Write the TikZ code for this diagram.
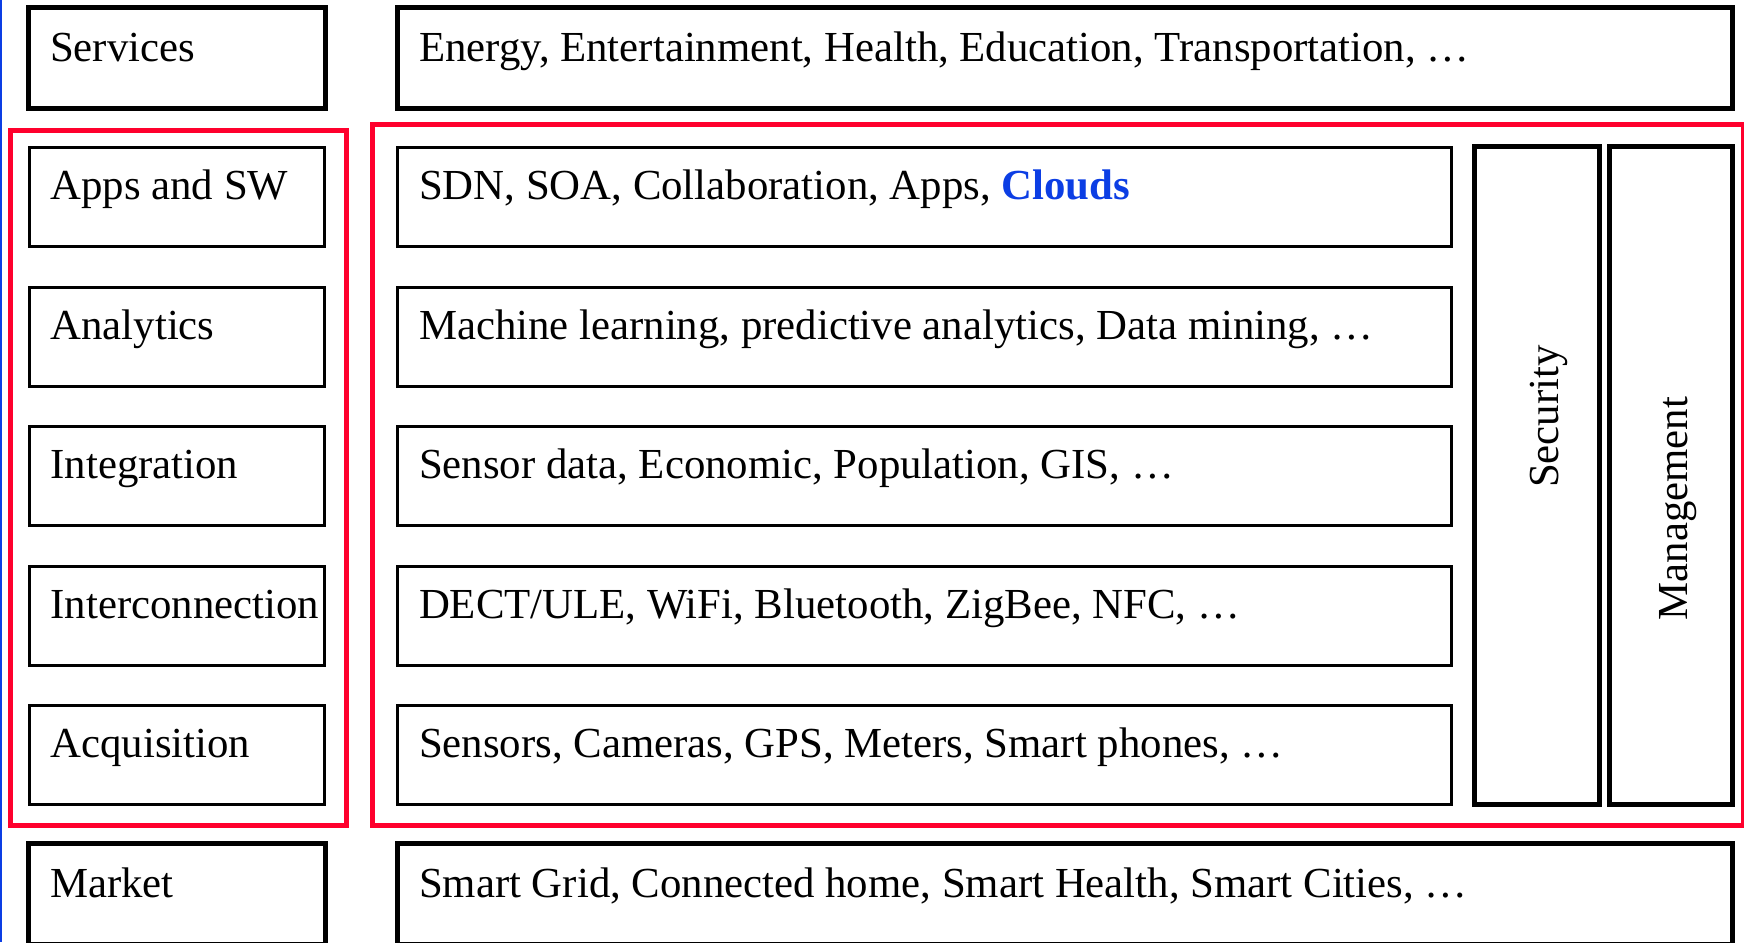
\documentclass[tikz,border=0pt]{standalone}
\usepackage{fontspec}
\setmainfont{Liberation Serif}
\usepackage{tikz}
\usetikzlibrary{positioning}
\definecolor{framered}{RGB}{255,0,45}
\definecolor{cloudblue}{RGB}{12,62,228}
\tikzstyle{frame} = [draw=framered, line width=2.5pt]
\tikzstyle{layer_thick} = [rectangle, draw, line width=2.5pt, text width=127pt, inner xsep=10.75pt, inner ysep=0pt, text height=27pt, text depth=23.5pt, align=flush left, font=\fontsize{21.4}{25}\selectfont]
\tikzstyle{layer} = [rectangle, draw, line width=1.5pt, text width=126.25pt, inner xsep=10.75pt, inner ysep=0pt, text height=26pt, text depth=23.5pt, align=flush left, font=\fontsize{21.4}{25}\selectfont]
\tikzstyle{tech_thick} = [layer_thick, text width=646pt]
\tikzstyle{tech} = [layer, text width=505.5pt]
\tikzstyle{side_box} = [rectangle, draw, line width=2.5pt, inner sep=0pt, minimum height=328.85pt]
\tikzstyle{side_text} = [rotate=90, anchor=base, inner sep=0pt, font=\fontsize{21.4}{25}\selectfont]

\begin{document}
\begin{tikzpicture}[x=0.5pt, y=-0.5pt]
		\path[use as bounding box, clip] (0,0) rectangle (1744,942);
		\draw[cloudblue, line width=1pt] (1,0) -- (1,942);
		
		\node[layer_thick] (L_services) at (177,58) {Services};
		\node[tech_thick, right of=L_services, node distance=444pt] (R_services) {Energy, Entertainment, Health, Education, Transportation, …};
		
		\node[layer] (L_apps) at (176.75,197.1) {Apps and SW};
		\node[layer, below of=L_apps, node distance=69.75pt] (L_ana) {Analytics};
		\node[layer, below of=L_ana, node distance=69.75pt] (L_integ) {Integration};
		\node[layer, below of=L_integ, node distance=69.75pt] (L_inter) {Interconnection};
		\node[layer, below of=L_inter, node distance=69.75pt] (L_acq) {Acquisition};
		
		\node[tech, right of=L_apps, node distance=373.875pt] (R_apps) {SDN, SOA, Collaboration, Apps, {\bfseries\color{cloudblue}Clouds}};
		\node[tech, right of=L_ana, node distance=373.875pt] (R_ana) {Machine learning, predictive analytics, Data mining, …};
		\node[tech, right of=L_integ, node distance=373.875pt] (R_integ) {Sensor data, Economic, Population, GIS, …};
		\node[tech, right of=L_inter, node distance=373.875pt] (R_inter) {DECT/ULE, WiFi, Bluetooth, ZigBee, NFC, …};
		\node[tech, right of=L_acq, node distance=373.875pt] (R_acq) {Sensors, Cameras, GPS, Meters, Smart phones, …};
		
		\node[side_box, minimum width=62.5pt] (sec_box) at (1536.5,475.3) {};
		\node[side_box, minimum width=61.75pt, right of=sec_box, node distance=67.125pt] (man_box) {};
		\node[side_text] (sec_text) at ([xshift=10.75pt, yshift=29.4pt]sec_box.center) {Security};
		\node[side_text] (man_text) at ([xshift=8.6pt, yshift=-16.6pt]man_box.center) {Management};
		
		\draw[frame] (10,130) rectangle (346.5,825);
		\draw[frame] (372.5,124.5) rectangle (1743,825);
		
		\node[layer_thick] (L_market) at (177,893.5) {Market};
		\node[tech_thick, right of=L_market, node distance=444pt] (R_market) {Smart Grid, Connected home, Smart Health, Smart Cities, …};
	\end{tikzpicture}
\end{document}
